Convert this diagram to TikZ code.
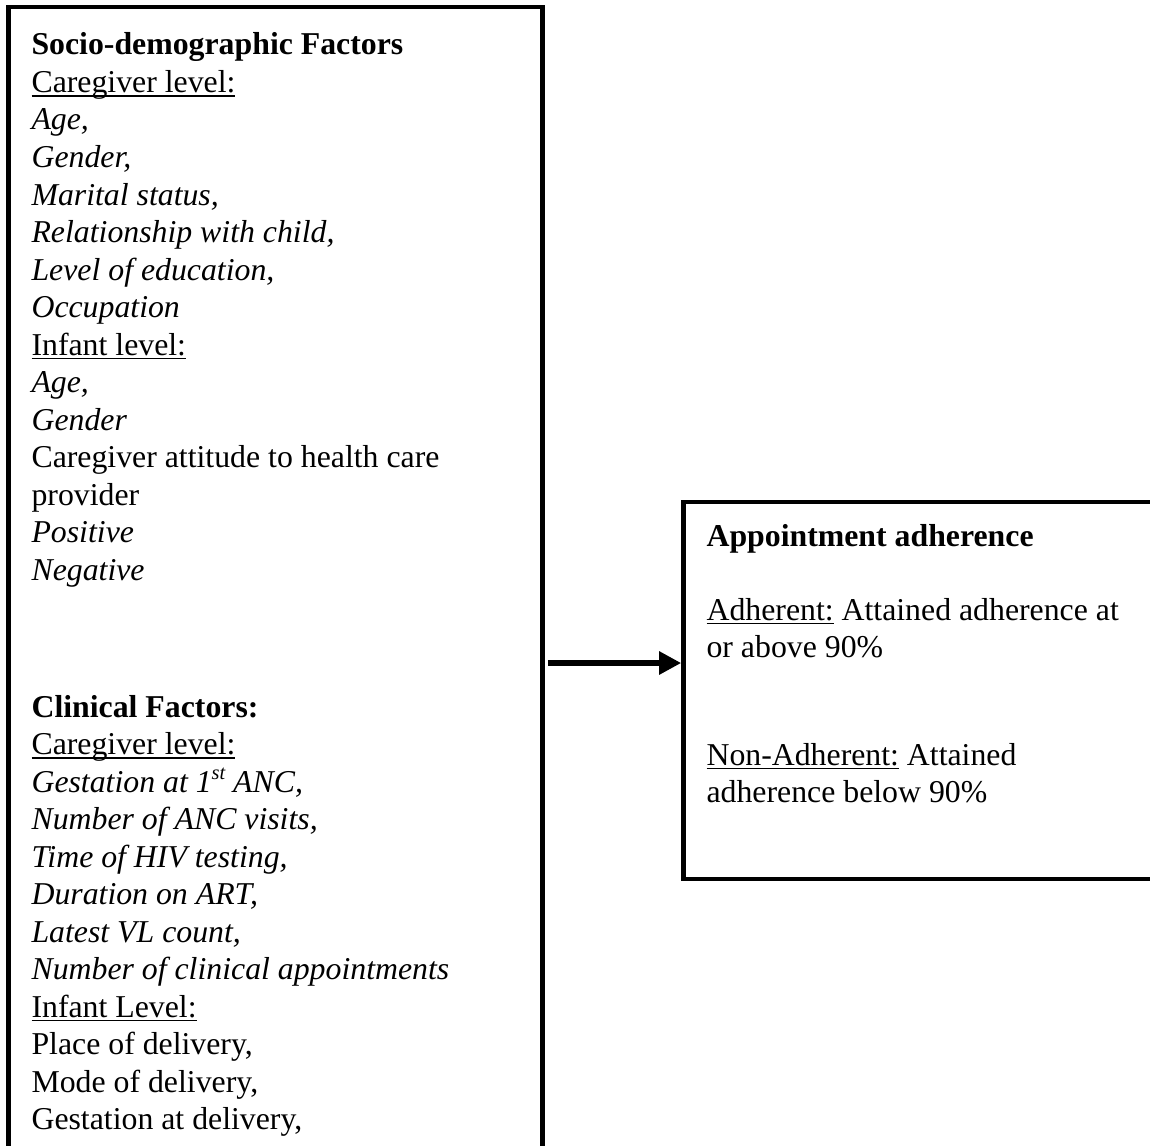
\documentclass[tikz,border=0pt]{standalone}
\usepackage{fontspec}
\setmainfont{Liberation Serif}
\usetikzlibrary{arrows.meta}
\newcommand{\ulx}[1]{{\setbox0\hbox{#1}\rlap{\rule[-1.6pt]{\wd0}{0.55pt}}\box0}}
\newcommand{\supx}[1]{\raisebox{4.6pt}{\fontsize{7.5pt}{8pt}\selectfont #1}}
\begin{document}
\begin{tikzpicture}[x=0.368pt,y=-0.368pt,
  box/.style={draw,line width=1.66pt,rectangle,inner sep=0},
  txt/.style={anchor=base west,inner sep=0,font=\fontsize{11.7pt}{13.8pt}\selectfont},
  arr/.style={line width=2.2pt,-{Triangle[length=8.1pt,width=8.1pt]}}]
\useasboundingbox (0,0) rectangle (1150,1145);
\clip (0,0) rectangle (1150,1145);
\node[box,minimum width=196.5pt,minimum height=457.4pt] (lbox) at (275.7,628.5) {};
\node[box,minimum width=190.1pt,minimum height=138.7pt] (rbox) at (941.75,690.5) {};
\node[txt] (socio) at (31,55) {\begin{tabular}[t]{@{}l@{}}
\textbf{Socio-demographic Factors}\\
\ulx{Caregiver level:}\\
\textit{Age,}\\
\textit{Gender,}\\
\textit{Marital status,}\\
\textit{Relationship with child,}\\
\textit{Level of education,}\\
\textit{Occupation}\\
\ulx{Infant level:}\\
\textit{Age,}\\
\textit{Gender}\\
Caregiver attitude to health care\\
provider\\
\textit{Positive}\\
\textit{Negative}
\end{tabular}};
\node[txt] (clin) at (31,717) {\begin{tabular}[t]{@{}l@{}}
\textbf{Clinical Factors:}\\
\ulx{Caregiver level:}\\
\textit{Gestation at 1\supx{st} ANC,}\\
\textit{Number of ANC visits,}\\
\textit{Time of HIV testing,}\\
\textit{Duration on ART,}\\
\textit{Latest VL count,}\\
\textit{Number of clinical appointments}\\
\ulx{Infant Level:}\\
Place of delivery,\\
Mode of delivery,\\
Gestation at delivery,
\end{tabular}};
\node[txt] (apph) at (706,546) {\textbf{Appointment adherence}};
\node[txt] (adh) at (706,620) {\begin{tabular}[t]{@{}l@{}}
\ulx{Adherent:} Attained adherence at\\
or above 90\%
\end{tabular}};
\node[txt] (nadh) at (706,765) {\begin{tabular}[t]{@{}l@{}}
\ulx{Non-Adherent:} Attained\\
adherence below 90\%
\end{tabular}};
\coordinate (ay) at (0,663);
\draw[arr,shorten <=1.1pt] (lbox.east |- ay) -- (rbox.west |- ay);
\end{tikzpicture}
\end{document}
